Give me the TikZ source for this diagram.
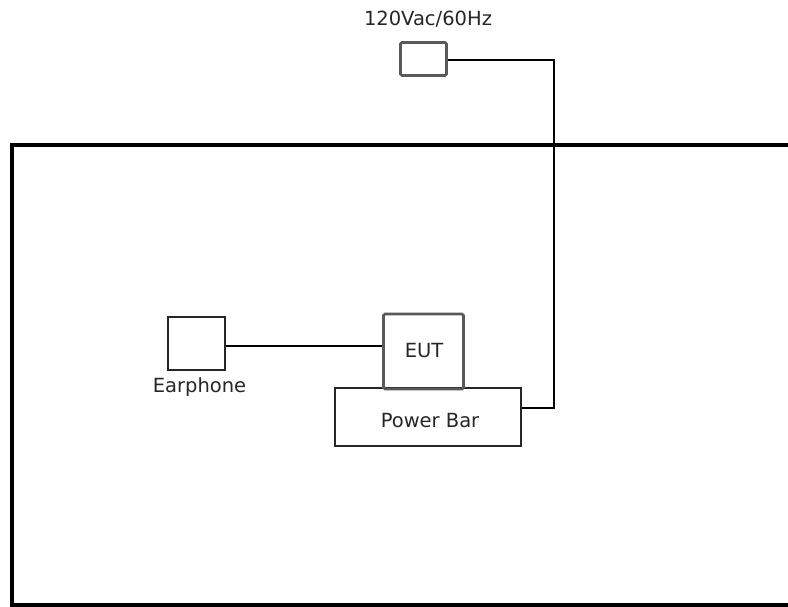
\documentclass[tikz,border=0pt]{standalone}
\usepackage{fontspec}
\setmainfont{DejaVu Sans}
\begin{document}
\begin{tikzpicture}[x=1pt,y=-1pt,
  lbl/.style={font=\fontsize{19.5}{21}\selectfont, text=black!85, inner sep=0pt},
  plainbox/.style={draw=black!85, line width=1.5pt, inner sep=0pt},
  graybox/.style={draw=black!65, line width=2.8pt, rounded corners=1.5pt, inner sep=0pt},
  wire/.style={draw=black, line width=1.3pt},
  frame/.style={draw=black, line width=4pt}]
\useasboundingbox (0,0) rectangle (788,607);
% room frame
\coordinate (ftr) at (800,145);
\coordinate (ftl) at (12,145);
\coordinate (fbl) at (12,605);
\coordinate (fbr) at (800,605);
\draw[frame] (ftr) -- (ftl) -- (fbl) -- (fbr);
% socket
\node[graybox, minimum width=46pt, minimum height=33pt] (socket) at (423.5,59) {};
\node[lbl] (socketlbl) at (428,19) {120Vac/60Hz};
% earphone
\node[plainbox, minimum width=57pt, minimum height=53pt] (ear) at (196.5,343.5) {};
\node[lbl] (earlbl) at (199.5,387) {Earphone};
% power bar
\node[plainbox, minimum width=186pt, minimum height=58pt] (pbar) at (428,417) {};
\node[lbl] (pbarlbl) at (430,421) {Power Bar};
% EUT
\node[graybox, minimum width=80pt, minimum height=75pt] (eut) at (423.5,351.5) {};
\node[lbl] (eutlbl) at (424,351) {EUT};
% wires
\coordinate (c1) at (554,408);
\coordinate (c2) at (554,60);
\draw[wire] (ear.east |- 0,346) -- (eut.west |- 0,346);
\draw[wire] (pbar.east |- c1) -- (c1) -- (c2) -- (socket.east |- c2);
\end{tikzpicture}
\end{document}
